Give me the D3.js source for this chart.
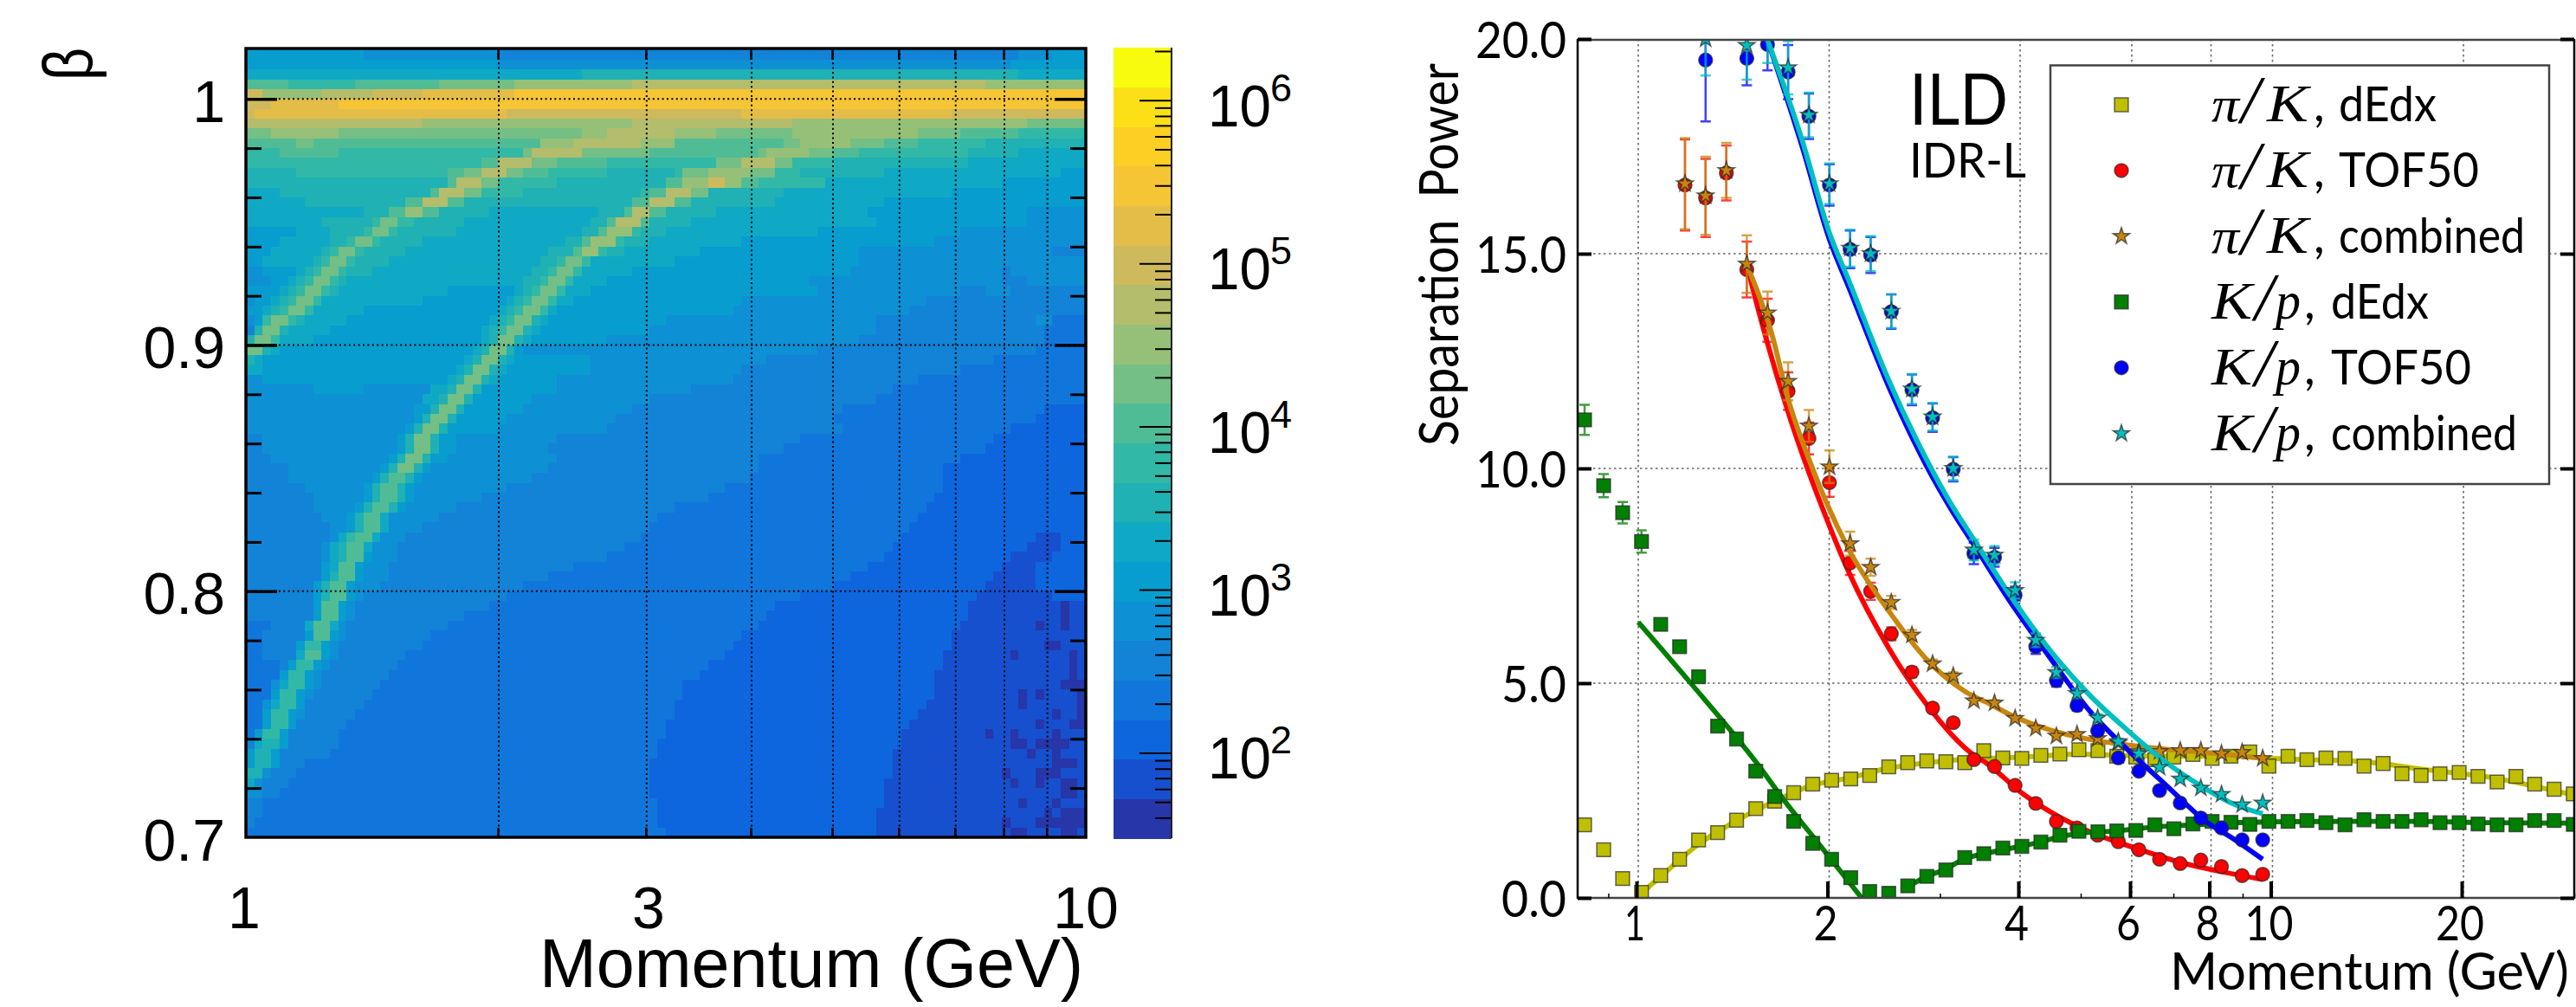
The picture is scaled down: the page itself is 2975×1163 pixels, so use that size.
<!DOCTYPE html>
<html><head><meta charset="utf-8">
<script src="https://cdn.jsdelivr.net/npm/d3@7"></script>
<style>html,body{margin:0;padding:0;background:#fff}svg{display:block}</style></head>
<body><svg id="c" width="2975" height="1163" viewBox="0 0 2975 1163"></svg>
<script>
// ---------- left panel data ----------
const palette=["#2736A8","#1650CE","#0E66DE","#1176DB","#1283D7","#0E90D4","#079DCF","#0FA9C5","#1FB1B3","#32B8A6","#50BC96","#73BF85","#96C077","#B3BD6B","#CFB95D","#E4BD49","#F5C535","#FDCE24","#FCE017","#F9FB0E"];
// each row, top to bottom: level, last column, level, last column ...
const heatRows=[
[6,13,5,29,4,91,5,95,6,99],
[6,29,5,90,6,99],
[7,39,8,91,7,99],
[10,4,9,12,10,22,11,31,12,45,13,87,12,99],
[14,1,12,8,13,14,14,20,15,31,16,99],
[14,2,15,10,16,99],
[14,0,15,30,14,58,15,83,14,99],
[13,20,12,45,13,64,12,92,11,99],
[11,2,12,10,11,39,12,42,13,50,12,55,11,64,12,79,11,84,10,91,9,99],
[10,5,11,7,10,34,12,38,13,46,12,50,10,63,11,65,12,71,11,75,10,79,9,87,8,99],
[9,3,10,10,9,32,11,33,13,39,11,47,10,60,11,61,12,66,11,69,10,72,9,85,8,91,7,99],
[9,27,10,29,13,33,11,36,10,42,9,55,11,58,13,62,11,64,9,69,8,85,7,99],
[8,5,9,23,10,25,11,27,13,30,11,32,10,35,9,42,8,50,9,51,11,54,12,59,11,62,9,65,8,75,7,96,6,99],
[8,23,10,24,13,27,11,29,9,36,8,49,10,51,12,54,14,56,12,58,10,60,9,68,7,89,6,99],
[7,3,8,21,10,22,13,25,11,27,9,32,8,46,9,47,10,49,13,52,11,54,8,63,7,83,6,99],
[7,6,8,18,10,20,13,23,10,25,8,45,10,47,13,50,10,52,8,62,7,75,6,99],
[7,13,8,16,10,18,12,20,10,22,8,28,7,41,8,44,10,45,13,47,10,49,8,55,7,73,6,92,5,99],
[7,8,8,14,9,15,11,17,9,19,8,25,7,40,8,42,10,43,13,46,10,47,8,52,7,74,6,92,5,99],
[6,5,7,9,8,13,9,14,11,16,9,17,8,24,7,39,8,41,10,42,12,45,9,46,8,49,7,67,6,84,5,99],
[6,3,7,9,8,11,9,12,11,14,9,15,8,20,7,37,8,39,10,40,12,43,9,44,8,47,7,58,6,81,5,99],
[6,2,7,8,8,9,9,10,11,12,9,13,8,18,7,35,8,38,10,39,12,41,9,42,8,44,7,53,6,72,5,95,4,99],
[6,1,7,7,8,8,9,9,11,11,9,12,8,16,7,34,8,36,9,37,11,39,9,40,7,50,6,72,5,99],
[5,1,6,5,7,6,8,7,9,8,11,10,9,11,8,14,7,33,8,35,9,36,11,38,9,39,7,45,6,71,5,89,4,90,5,99],
[5,2,6,4,7,5,8,6,9,7,11,9,9,10,8,11,7,32,8,34,9,35,11,37,9,38,7,42,6,66,5,89,4,92,5,99],
[6,3,7,4,8,5,9,6,11,8,9,9,8,10,7,23,6,31,7,32,8,33,9,34,11,36,9,37,7,40,6,67,5,84,4,87,5,90,4,99],
[5,0,6,2,7,3,8,4,9,5,11,7,9,8,7,20,6,30,7,31,8,32,9,33,11,35,9,36,7,38,6,58,5,80,4,99],
[6,1,7,2,8,3,9,4,11,6,9,7,7,13,6,29,7,30,8,31,9,32,11,34,9,35,7,36,6,57,5,78,4,99],
[5,0,6,1,9,2,11,4,9,5,8,6,7,11,6,28,7,29,8,30,9,31,11,33,8,34,7,35,6,49,5,74,4,93,5,95,3,99],
[4,0,8,1,11,3,8,4,7,9,6,27,7,28,8,29,9,30,11,32,8,33,7,34,6,47,5,74,4,94,3,99],
[8,0,11,2,9,3,7,7,6,27,7,28,8,29,11,31,8,32,7,33,6,42,5,72,4,94,3,99],
[11,1,8,2,7,3,6,26,7,27,8,28,11,30,8,31,6,32,5,67,4,93,3,99],
[8,0,7,1,6,25,7,26,8,27,11,29,8,30,7,31,6,40,5,61,4,88,3,99],
[7,1,6,24,7,25,8,26,11,28,8,29,7,30,6,40,5,58,4,84,3,99],
[5,1,6,23,7,24,8,25,11,27,8,28,7,29,6,36,5,57,4,79,3,99],
[5,7,6,13,5,21,7,23,8,24,11,26,8,27,6,36,5,52,4,76,3,99],
[5,20,7,22,8,23,11,25,8,26,6,33,5,47,4,74,3,99],
[5,19,6,21,8,22,11,24,8,25,6,32,5,45,4,70,3,94,2,99],
[5,19,6,20,8,21,11,23,8,24,6,30,5,43,4,69,3,93,2,99],
[5,18,6,19,8,20,11,22,8,23,6,29,5,42,4,70,3,90,2,99],
[4,1,5,17,6,18,8,19,11,21,8,22,6,24,5,36,4,65,3,88,2,99],
[4,1,5,17,6,18,8,19,11,21,8,22,6,24,5,35,4,63,3,87,2,99],
[4,2,5,16,6,17,8,18,11,20,8,21,6,23,5,36,4,60,3,84,2,99],
[4,4,5,15,6,16,8,17,11,19,8,20,6,21,5,35,4,60,3,82,2,99],
[4,4,5,14,6,15,8,16,10,18,8,19,6,20,5,33,4,59,3,82,2,99],
[4,6,5,13,6,14,8,15,10,17,8,18,6,19,5,30,4,56,3,82,2,99],
[4,7,5,13,6,14,8,15,10,17,8,18,6,19,5,27,4,54,3,81,2,99],
[4,7,5,12,6,13,8,14,10,16,8,17,6,18,5,24,4,50,3,80,2,99],
[4,8,5,11,6,12,8,13,10,15,7,16,5,22,4,48,3,79,2,99],
[4,9,5,11,6,12,8,13,10,15,7,16,5,20,4,47,3,78,2,99],
[4,9,5,10,7,11,9,12,10,14,7,15,5,18,4,46,3,77,2,93,1,96,2,99],
[4,8,5,9,7,10,8,11,10,13,7,14,5,17,4,44,3,76,2,92,1,96,2,99],
[4,8,5,9,7,10,8,11,10,13,6,14,5,17,4,42,3,75,2,90,1,95,2,99],
[4,8,6,9,7,10,10,12,6,13,5,16,4,38,3,73,2,89,1,93,2,99],
[4,8,6,9,8,10,10,12,6,13,5,16,4,35,3,71,2,88,1,93,2,99],
[4,7,6,8,8,9,10,11,6,12,5,15,4,32,3,69,2,87,1,93,2,99],
[4,7,6,8,8,9,10,11,6,12,5,13,4,30,3,65,2,86,1,95,2,99],
[4,7,6,8,10,10,6,11,5,12,4,28,3,62,2,85,1,96,0,97,1,99],
[4,7,6,8,10,10,6,11,5,12,4,25,3,61,2,85,1,96,0,97,1,99],
[3,2,4,6,7,7,10,9,7,10,5,11,4,23,3,60,2,84,1,93,0,94,1,96,0,97,1,99],
[3,1,4,6,6,7,10,9,6,10,5,11,4,21,3,58,2,83,1,99],
[3,1,4,5,6,6,9,8,6,9,5,10,4,20,3,57,2,83,1,94,0,96,1,99],
[3,1,4,5,7,6,10,8,6,9,5,10,4,18,3,56,2,82,1,90,0,91,1,97,0,98,1,99],
[3,3,4,4,6,5,9,7,6,8,5,9,4,17,3,54,2,82,1,97,0,98,1,99],
[3,3,6,4,9,6,6,7,5,8,4,16,3,53,2,81,1,97,0,98,1,99],
[3,2,5,3,7,4,9,6,6,7,5,8,4,15,3,51,2,81,1,96,0,99],
[3,2,6,3,9,5,6,6,5,7,4,14,3,51,2,81,1,91,0,92,1,93,0,94,1,98,0,99],
[3,1,5,2,7,3,9,5,6,6,4,13,3,50,2,80,1,91,0,92,1,98,0,99],
[3,1,6,2,9,4,6,5,5,6,4,12,3,50,2,79,1,95,0,96,1,98,0,99],
[3,1,6,2,9,4,6,5,4,11,3,49,2,78,1,93,0,94,1,97,0,99],
[3,0,6,1,9,3,6,4,4,10,3,49,2,77,1,87,0,88,1,90,0,91,1,95,0,96,1,99],
[4,0,7,1,8,3,6,4,4,10,3,48,2,77,1,90,0,92,1,93,0,97,1,99],
[6,0,8,2,6,3,4,9,3,48,2,76,1,92,0,93,1,95,0,96,1,99],
[6,0,8,2,6,3,4,6,3,47,2,76,1,95,0,98,1,99],
[8,1,5,2,4,5,3,47,2,76,1,89,0,90,1,93,0,96,1,99],
[7,0,5,1,4,4,3,47,2,75,1,90,0,91,1,93,0,94,1,96,0,98,1,99],
[5,1,4,3,3,47,2,75,1,96,0,98,1,99],
[4,1,3,48,2,75,1,91,0,92,1,95,0,96,1,99],
[4,1,3,48,2,74,1,94,0,95,1,96,0,99],
[4,0,3,48,2,74,1,89,0,90,1,93,0,99],
[3,49,2,74,1,90,0,92,1,96,0,98,1,99]
];
const heatLogPMax=1, heatBinsX=100, heatBetaTop=1.02, heatBetaStep=0.004;
const betaMajor=[0.7,0.8,0.9,1];
const betaLabels=["0.7","0.8","0.9","1"];
const betaMinor=[0.72,0.74,0.76,0.78,0.82,0.84,0.86,0.88,0.92,0.94,0.96,0.98];
const pMinorLeft=[2,3,4,5,6,7,8,9];
const pLabelsLeft=[1,3,10];
const cbExponents=[2,3,4,5,6];
const cbMinor=[40,50,60,70,80,90,200,300,400,500,600,700,800,900,2000,3000,4000,5000,6000,7000,8000,9000,20000,30000,40000,50000,60000,70000,80000,90000,200000,300000,400000,500000,600000,700000,800000,900000,2000000];

// ---------- right panel data ----------
const pDedx=[.823,.882,.945,1.012,1.085,1.162,1.245,1.334,1.429,1.532,1.641,1.758,1.884,2.018,2.163,2.317,2.483,2.66,2.851,3.055,3.272,3.506,3.757,4.025,4.313,4.622,4.952,5.306,5.682,6.088,6.525,6.99,7.49,8.03,8.6,9.21,9.87,10.58,11.33,12.14,13.01,13.94,14.94,16,17.15,18.37,19.69,21.09,22.6,24.2,25.9,27.8,29.8];
const piKDedx=[1.7,1.12,.45,.13,.52,.9,1.35,1.52,1.81,2.08,2.25,2.45,2.65,2.74,2.77,2.85,3.05,3.15,3.19,3.17,3.15,3.43,3.26,3.25,3.32,3.35,3.45,3.43,3.3,3.28,3.22,3.28,3.34,3.25,3.3,3.4,3.07,3.3,3.22,3.26,3.25,3.07,3.13,2.89,2.85,2.89,2.92,2.83,2.7,2.83,2.65,2.53,2.42];
const kPDedx=[11.13,9.6,8.97,8.3,6.37,5.85,5.15,4,3.7,2.95,2.36,1.78,1.27,.9,.47,.15,.11,.28,.5,.65,.94,1.03,1.16,1.2,1.3,1.46,1.55,1.54,1.56,1.57,1.7,1.61,1.72,1.78,1.76,1.71,1.78,1.78,1.8,1.75,1.7,1.82,1.78,1.78,1.82,1.75,1.75,1.72,1.7,1.7,1.8,1.8,1.71];
const kPDedxErr=[.35,.27,.25,.26,.05,.05,.05,.05,.04,.04,.04,.03,.03,.03,.03,.03,.03,.03,.03,.03,.03,.03,.03,.03,.03,.03,.03,.03,.03,.03,.03,.03,.03,.03,.03,.03,.03,.03,.03,.03,.03,.03,.03,.03,.03,.03,.03,.03,.03,.03,.03,.03,.03];
const pTof=[1.185,1.277,1.377,1.483,1.599,1.723,1.858,2.002,2.158,2.325,2.506,2.701,2.911,3.138,3.382,3.645,3.928,4.234,4.563,4.918,5.301,5.713,6.157,6.636,7.153,7.709,8.309,8.955,9.65];
const piKTof=[16.6,16.3,16.88,14.63,13.45,11.8,10.7,9.67,7.8,7.14,6.15,5.26,4.42,4.08,3.22,3.06,2.62,2.2,1.78,1.63,1.46,1.31,1.12,.9,.8,.88,.73,.52,.55];
const piKTofErr=[1.06,.91,.64,.65,.5,.44,.37,.33,.28,.2,.15,.12,.1,.08,.07,.06,.05,.05,.04,.04,.03,.03,.03,.03,.03,.03,.03,.03,.03];
const piKComb=[16.63,16.35,16.94,14.76,13.62,12.03,10.99,10.04,8.25,7.7,6.88,6.12,5.45,5.17,4.59,4.54,4.18,3.95,3.77,3.81,3.71,3.61,3.41,3.41,3.43,3.43,3.36,3.39,3.25];
const piKCombErr=[1.06,.91,.64,.67,.5,.44,.37,.38,.28,.2,.15,.12,.1,.08,.07,.06,.05,.05,.04,.04,.03,.03,.03,.03,.03,.03,.03,.03,.03];
const kPTof=[null,19.51,null,19.55,19.87,19.23,18.2,16.6,15.1,14.97,13.65,11.83,11.18,9.98,8.02,7.93,7.05,5.85,5.06,4.48,3.89,3.26,2.95,2.5,2.21,1.86,1.63,1.35,1.35];
const kPTofErr=[0,1.43,0,.63,.6,.63,.53,.48,.44,.42,.4,.36,.33,.28,.25,.22,.2,.17,.14,.12,.1,.08,.06,.05,.04,.04,.03,.03,.03];
const kPComb=[null,20,null,19.85,20.1,19.33,18.23,16.63,15.13,15,13.66,11.85,11.2,10,8.1,7.98,7.16,6,5.25,4.76,4.19,3.64,3.36,3.04,2.77,2.56,2.41,2.17,2.21];
const kPCombErr=[0,.85,0,.8,.66,.62,.52,.47,.43,.41,.39,.35,.32,.27,.24,.21,.19,.16,.13,.11,.09,.07,.06,.05,.04,.04,.03,.03,.03];
const fitPiKDedxP=[1.01,1.085,1.245,1.43,1.64,1.88,2.16,2.48,2.85,3.27,3.76,4.3,4.95,5.7,6.5,7.5,8.6,9.9,11.3,13,15,17.1,19.7,22.6,25.9,29.8];
const fitPiKDedxV=[.1,.5,1.25,1.8,2.25,2.62,2.8,3.02,3.15,3.23,3.26,3.3,3.35,3.32,3.3,3.3,3.3,3.25,3.22,3.2,3.12,3,2.9,2.78,2.6,2.4];
const fitKPDedxP=[1,1.21,1.536,1.695,1.95,2.25,2.49,2.66,2.85,3.05,3.27,3.51,3.76,4,4.3,4.6,4.95,5.7,6.5,7.5,8.6,10,13,17,22,30];
const fitKPDedxV=[6.42,5,3.15,2.29,1.16,0,null,.26,.5,.67,.91,1.03,1.12,1.2,1.3,1.42,1.5,1.56,1.65,1.7,1.75,1.77,1.78,1.78,1.75,1.74];
const fitPiKTofP=[1.483,1.59,1.72,1.844,1.935,2.15,2.475,2.85,3.37,3.53,4.06,4.48,5.15,6.08,7.19,8.38,9.65];
const fitPiKTofV=[14.74,13.04,11.35,10.04,9.22,7.57,5.85,4.5,3.34,3.15,2.4,1.99,1.54,1.16,.82,.6,.43];
const fitPiKCombP=[1.483,1.625,1.72,1.869,1.978,2.15,2.475,2.85,3.28,3.6,3.89,4.48,5.15,5.91,6.8,7.82,9.65];
const fitPiKCombV=[14.74,13.12,11.66,10.12,9.22,8.1,6.71,5.55,4.8,4.5,4.24,3.9,3.69,3.56,3.46,3.39,3.25];
const fitKPTofP=[1.597,1.817,2,2.15,2.475,2.85,3.1,3.39,3.89,4.48,5.15,5.91,6.8,7.82,8.73,9.65];
const fitKPTofV=[20,17.45,15.35,14.2,11.95,10.05,9.1,8.2,6.82,5.55,4.35,3.45,2.62,1.8,1.35,.9];
const fitKPCombP=[1.597,1.817,2,2.15,2.475,2.85,3.1,3.39,3.89,4.48,5.15,5.91,6.8,7.82,8.73,9.65];
const fitKPCombV=[20,17.6,15.5,14.36,12.1,10.2,9.22,8.32,6.97,5.73,4.72,3.9,3.15,2.55,2.17,1.96];
const sepMajor=[0,5,10,15,20];
const sepLabels=["0.0","5.0","10.0","15.0","20.0"];
const pMajorRight=[1,2,4,6,8,10,20];
const pMinorRight=[.9,3,5,7,9,30];
const legendEntries=["π/K, dEdx","π/K, TOF50","π/K, combined","K/p, dEdx","K/p, TOF50","K/p, combined"];

// ---------- drawing ----------
const svg=d3.select("#c");
const fontL="'Liberation Sans',Arial,sans-serif", fontR="Lato,'Open Sans',sans-serif", fontM="'Liberation Serif',serif";
const fit=(s,len)=>s.attr("textLength",len).attr("lengthAdjust","spacingAndGlyphs");

// --- left panel ---
const xL=d3.scaleLog([1,10],[284,1254]);
const yL=d3.scaleLinear([0.7,1.0205],[967,56]);
const cells=[];
heatRows.forEach((row,r)=>{let start=0;
  for(let i=0;i<row.length;i+=2){cells.push({r,c0:start,c1:row[i+1]+1,l:row[i]});start=row[i+1]+1;}
});
const L=svg.append("g");
L.append("g").attr("shape-rendering","crispEdges").selectAll("rect").data(cells).join("rect")
 .attr("x",d=>xL(10**(d.c0/heatBinsX*heatLogPMax)))
 .attr("width",d=>xL(10**(d.c1/heatBinsX*heatLogPMax))-xL(10**(d.c0/heatBinsX*heatLogPMax))+.5)
 .attr("y",d=>d.r==0?yL.range()[1]:yL(heatBetaTop-heatBetaStep*d.r))
 .attr("height",d=>yL(heatBetaTop-heatBetaStep*(d.r+1))-(d.r==0?yL.range()[1]:yL(heatBetaTop-heatBetaStep*d.r))+.5)
 .attr("fill",d=>palette[d.l]);
const dotted=(g)=>g.attr("stroke","#000").attr("stroke-width",2).attr("stroke-dasharray","2 3.4").attr("fill","none");
L.append("g").call(dotted).selectAll("line.v").data(pMinorLeft).join("line")
 .attr("x1",d=>xL(d)).attr("x2",d=>xL(d)).attr("y1",yL.range()[1]).attr("y2",yL.range()[0]);
L.append("g").call(dotted).selectAll("line.h").data([.8,.9,1]).join("line")
 .attr("y1",d=>yL(d)).attr("y2",d=>yL(d)).attr("x1",284).attr("x2",1254);
const styleAx=(g,w)=>{g.select(".domain").remove();g.selectAll("line").attr("stroke","#000").attr("stroke-width",w);};
L.append("g").attr("transform","translate(284,0)").call(d3.axisLeft(yL).tickValues(betaMajor).tickSizeInner(-36).tickSizeOuter(0).tickPadding(24).tickFormat((d,i)=>betaLabels[i]))
 .call(g=>{styleAx(g,3.5);g.selectAll("text").attr("font-family",fontL).attr("font-size",68).attr("fill","#000").attr("dy",26);g.selectAll("g.tick").filter(d=>d==0.7).select("line").remove();});
L.append("g").attr("transform","translate(284,0)").call(d3.axisLeft(yL).tickValues(betaMinor).tickSizeInner(-18).tickSizeOuter(0).tickFormat(""))
 .call(g=>styleAx(g,3));
L.append("g").attr("transform","translate(1254,0)").call(d3.axisRight(yL).tickValues([.8,.9,1]).tickSizeInner(-36).tickSizeOuter(0).tickFormat(""))
 .call(g=>styleAx(g,3.5));
L.append("g").attr("transform","translate(1254,0)").call(d3.axisRight(yL).tickValues(betaMinor).tickSizeInner(-18).tickSizeOuter(0).tickFormat(""))
 .call(g=>styleAx(g,3));
L.append("g").attr("transform","translate(-1,967)").call(d3.axisBottom(xL).tickValues(pMinorLeft).tickSizeInner(-11).tickSizeOuter(0).tickFormat(""))
 .call(g=>styleAx(g,2.5));
L.append("g").attr("transform","translate(-1,56)").call(d3.axisTop(xL).tickValues(pMinorLeft).tickSizeInner(-13).tickSizeOuter(0).tickFormat(""))
 .call(g=>styleAx(g,2.5));
L.append("g").attr("font-family",fontL).attr("font-size",68).attr("text-anchor","middle").selectAll("text").data(pLabelsLeft).join("text")
 .attr("x",d=>xL(d)+(d==3?2:0)-(d==1?2:0)).attr("y",1072).text(d=>d);
L.append("rect").attr("x",284).attr("y",56).attr("width",970).attr("height",911).attr("fill","none").attr("stroke","#000").attr("stroke-width",3.5);
L.append("text").attr("x",623).attr("y",1140).attr("font-family",fontL).attr("font-size",80).call(fit,628).text("Momentum (GeV)");
L.append("text").attr("transform","translate(106,93) rotate(-90)").attr("font-family",fontL).attr("font-size",80).call(fit,38).text("β");
// colour bar
const cbY=d3.scaleLog([30,2.1e6],[968,55]);
const cbEdge=i=>30*(2.1e6/30)**(i/palette.length);
L.append("g").attr("shape-rendering","crispEdges").selectAll("rect").data(palette).join("rect")
 .attr("x",1286).attr("width",67).attr("y",(c,i)=>cbY(cbEdge(i+1))).attr("height",(c,i)=>cbY(cbEdge(i))-cbY(cbEdge(i+1))+.5).attr("fill",c=>c);
L.append("g").attr("transform","translate(1353,0)").call(d3.axisRight(cbY).tickValues(cbMinor).tickSizeInner(-19).tickSizeOuter(0).tickFormat(""))
 .call(g=>styleAx(g,2));
L.append("g").attr("transform","translate(1353,0)").call(d3.axisRight(cbY).tickValues(cbExponents.map(e=>10**e)).tickSizeInner(-37).tickSizeOuter(0).tickFormat(""))
 .call(g=>styleAx(g,2));
L.append("line").attr("x1",1353).attr("x2",1353).attr("y1",55).attr("y2",968).attr("stroke","#222").attr("stroke-width",2);
const cbL=L.append("g").attr("font-family",fontL).selectAll("g").data(cbExponents).join("g");
cbL.append("text").attr("x",1395).attr("y",e=>cbY(10**e)+30).attr("font-size",68).call(fit,73).text("10");
cbL.append("text").attr("x",1467).attr("y",e=>cbY(10**e)+1).attr("font-size",45).text(e=>e);

// --- right panel ---
const xR=d3.scaleLog([0.8,30],[1821,2974]);
const yR=d3.scaleLinear([0,20],[1037,45]);
const R=svg.append("g");
svg.append("defs").append("clipPath").attr("id","clipR").append("rect").attr("x",1822).attr("y",45).attr("width",1151).attr("height",992);
const dots=g=>g.attr("stroke","#666").attr("stroke-width",1.6).attr("stroke-dasharray","2.5 3.5").attr("fill","none");
R.append("g").call(dots).selectAll("line").data(pMajorRight).join("line")
 .attr("x1",d=>xR(d)).attr("x2",d=>xR(d)).attr("y1",45).attr("y2",1037);
R.append("g").call(dots).selectAll("line").data([5,10,15]).join("line")
 .attr("y1",d=>yR(d)).attr("y2",d=>yR(d)).attr("x1",1822).attr("x2",2973);
const plot=R.append("g").attr("clip-path","url(#clipR)");
const sq=d3.symbol(d3.symbolSquare,250)(), ci=d3.symbol(d3.symbolCircle,200)(), st=d3.symbol(d3.symbolStar,115)();
const edge="rgba(40,40,40,.7)";
const series=[
 {p:pDedx,v:piKDedx,fp:fitPiKDedxP,fv:fitPiKDedxV,c:"#BFBF00",m:sq},
 {p:pTof,v:piKTof,e:piKTofErr,fp:fitPiKTofP,fv:fitPiKTofV,c:"#FF0000",m:ci},
 {p:pTof,v:piKComb,e:piKCombErr,fp:fitPiKCombP,fv:fitPiKCombV,c:"#C8860F",m:st},
 {p:pDedx,v:kPDedx,e:kPDedxErr,fp:fitKPDedxP,fv:fitKPDedxV,c:"#007F00",m:sq},
 {p:pTof,v:kPTof,e:kPTofErr,fp:fitKPTofP,fv:fitKPTofV,c:"#0000FF",m:ci},
 {p:pTof,v:kPComb,e:kPCombErr,fp:fitKPCombP,fv:fitKPCombV,c:"#00BFBF",m:st}
];
const lineGen=d3.line().defined(d=>d[1]!=null).x(d=>xR(d[0])).y(d=>yR(d[1])).curve(d3.curveMonotoneX);
series.forEach(s=>{
  const g=plot.append("g");
  const pts=s.p.map((p,i)=>({p,v:s.v[i],e:s.e?s.e[i]:0})).filter(d=>d.v!=null);
  const eb=g.append("g").attr("stroke",s.c).attr("stroke-width",2.5).attr("opacity",.75);
  eb.selectAll("path").data(pts.filter(d=>d.e>0)).join("path").attr("fill","none")
    .attr("d",d=>{const x=xR(d.p),a=yR(d.v-d.e),b=yR(d.v+d.e);return `M${x},${a}V${b}M${x-6},${a}h12M${x-6},${b}h12`;});
  g.append("path").attr("fill","none").attr("stroke",s.c).attr("stroke-width",5.8).attr("d",lineGen(s.fp.map((p,i)=>[p,s.fv[i]])));
  g.append("g").selectAll("path").data(pts).join("path").attr("d",s.m)
    .attr("transform",d=>`translate(${xR(d.p)},${yR(d.v)})`).attr("fill",s.c).attr("stroke",edge).attr("stroke-width",1.5);
});
R.append("path").attr("d","M1822,46H2973M1822,1037H2973").attr("stroke","#444").attr("stroke-width",2.5).attr("fill","none");
R.append("path").attr("d","M1822,45V1038M2973,45V1038").attr("stroke","#000").attr("stroke-width",2.5).attr("fill","none");
R.append("g").attr("transform","translate(1822,0)").call(d3.axisLeft(yR).tickValues(sepMajor).tickSizeInner(-16).tickSizeOuter(0).tickPadding(13).tickFormat((d,i)=>sepLabels[i]))
 .call(g=>{styleAx(g,4);g.selectAll("text").attr("font-family",fontR).attr("font-size",59).attr("fill","#000").attr("dy",21)
   .each(function(d){d3.select(this).call(fit,d>=10?105:75);});});
R.append("g").attr("transform","translate(2973,0)").call(d3.axisRight(yR).tickValues(sepMajor).tickSizeInner(-16).tickSizeOuter(0).tickFormat(""))
 .call(g=>styleAx(g,4));
R.append("g").attr("transform","translate(-2,1037)").call(d3.axisBottom(xR).tickValues(pMajorRight).tickSizeInner(-19).tickSizeOuter(0).tickFormat(""))
 .call(g=>styleAx(g,4));
R.append("g").attr("transform","translate(-1,1037)").call(d3.axisBottom(xR).tickValues(pMinorRight).tickSizeInner(-5).tickSizeOuter(0).tickFormat(""))
 .call(g=>styleAx(g,1.5));
R.append("g").attr("font-family",fontR).attr("font-size",57).attr("text-anchor","middle").selectAll("text").data(pMajorRight).join("text")
 .attr("x",d=>xR(d)-4).attr("y",1085.5).each(function(d){d3.select(this).call(fit,d>=10?56:d==1?24:28);}).text(d=>d);
R.append("text").attr("x",2506).attr("y",1143).attr("font-family",fontR).attr("font-size",60).call(fit,461).text("Momentum (GeV)");
R.append("text").attr("transform","translate(1683.5,515) rotate(-90)").attr("font-family",fontR).attr("font-size",62).attr("word-spacing",12).call(fit,442).text("Separation Power");
R.append("text").attr("x",2205).attr("y",143.5).attr("font-family",fontR).attr("font-size",81).call(fit,114).text("ILD");
R.append("text").attr("x",2205).attr("y",204.7).attr("font-family",fontR).attr("font-size",56).call(fit,135).text("IDR-L");
R.append("rect").attr("x",2368).attr("y",75.5).attr("width",576).attr("height",483.5).attr("fill","#fff").attr("stroke","#444").attr("stroke-width",2.5);
const legY=d3.scalePoint(legendEntries,[121,500.6]);
const leg=R.append("g").selectAll("g").data(legendEntries).join("g").attr("transform",d=>`translate(0,${legY(d)})`);
leg.append("path").attr("transform","translate(2450,0)").attr("d",(d,i)=>series[i].m).attr("fill",(d,i)=>series[i].c).attr("stroke",edge).attr("stroke-width",1.5);
leg.each(function(d,i){
  const g=d3.select(this), [math,word]=d.split(", "), [a,b]=math.split("/"), pi=i<3;
  const ax=2554, sx=pi?2588:2604, bx=pi?2618:2628, cx=pi?2672:2661, wx=pi?2701:2692;
  g.append("text").attr("x",ax).attr("y",19).attr("font-family",fontM).attr("font-style","italic").attr("font-size",pi?58:62).call(fit,pi?32:47).text(a);
  g.append("text").attr("x",sx).attr("y",20).attr("font-family",fontM).attr("font-style","italic").attr("font-size",78).call(fit,22).text("/");
  g.append("text").attr("x",bx).attr("y",19).attr("font-family",fontM).attr("font-style","italic").attr("font-size",62).call(fit,pi?48:29).text(b);
  g.append("text").attr("x",cx).attr("y",19).attr("font-family",fontR).attr("font-size",56).text(",");
  g.append("text").attr("x",wx).attr("y",19).attr("font-family",fontR).attr("font-size",56).call(fit,word=="dEdx"?113:word=="TOF50"?162:215).text(word);
});
</script></body></html>
